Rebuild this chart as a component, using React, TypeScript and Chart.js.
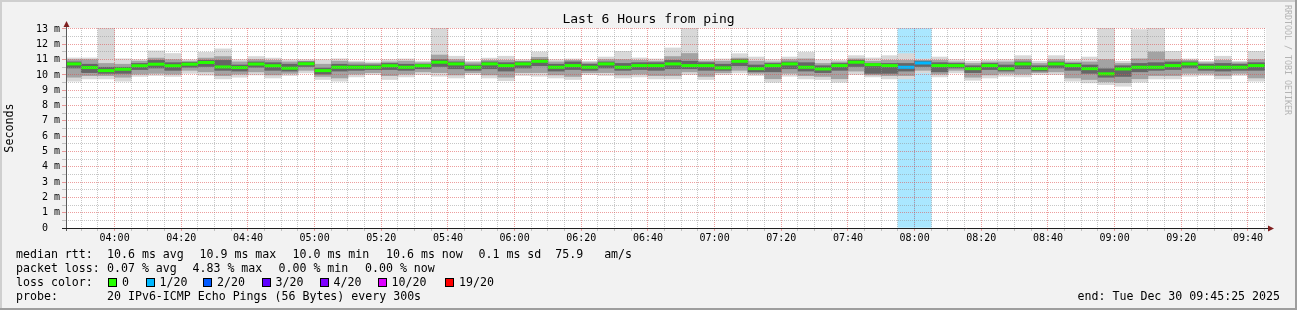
import React, { useEffect, useRef } from "react";
import { Chart, registerables } from "chart.js";

Chart.register(...registerables);

const MONO = '"DejaVu Sans Mono", monospace';

// ---- time axis (minutes since midnight) ----
const windowStart = 3 * 60 + 45 + 25 / 60; // 03:45:25
const windowEnd = windowStart + 6 * 60; // 09:45:25
const firstSlotStart = 3 * 60 + 45; // first 5-minute slot begins 03:45
const stepMinutes = 5;

const xMajorTickLabels = [
  "04:00", "04:20", "04:40", "05:00", "05:20", "05:40", "06:00", "06:20", "06:40",
  "07:00", "07:20", "07:40", "08:00", "08:20", "08:40", "09:00", "09:20", "09:40",
];
const yTickLabels = ["0  ", "1 m", "2 m", "3 m", "4 m", "5 m", "6 m", "7 m", "8 m", "9 m", "10 m", "11 m", "12 m", "13 m"];
const yMax = 13.065;

// ---- per 5-minute slot data (ms) ----
const medianRtt = [
  10.72, 10.48, 10.28, 10.37, 10.6, 10.7, 10.6, 10.7, 10.81, 10.52,
  10.48, 10.71, 10.6, 10.44, 10.73, 10.28, 10.5, 10.5, 10.5, 10.6,
  10.5, 10.6, 10.83, 10.72, 10.5, 10.72, 10.61, 10.72, 10.89, 10.5,
  10.61, 10.5, 10.72, 10.5, 10.61, 10.61, 10.72, 10.61, 10.61, 10.46,
  10.89, 10.41, 10.61, 10.72, 10.5, 10.39, 10.61, 10.83, 10.67, 10.61,
  10.5, 10.78, 10.61, 10.61, 10.41, 10.61, 10.41, 10.72, 10.41, 10.72,
  10.61, 10.41, 10.07, 10.39, 10.5, 10.5, 10.61, 10.72, 10.5, 10.5,
  10.5, 10.61,
];
const smokeOuterLo = [
  9.59, 9.74, 9.74, 9.59, 9.9, 9.96, 9.9, 10.1, 9.98, 9.74,
  9.85, 10.0, 9.8, 9.96, 10.13, 9.7, 9.59, 9.87, 10.02, 9.7,
  9.87, 10.02, 9.91, 9.8, 10.02, 9.8, 9.62, 9.96, 9.91, 9.8,
  9.7, 10.02, 9.96, 9.8, 9.87, 9.74, 9.74, 10.02, 9.7, 10.02,
  10.13, 9.96, 9.52, 9.91, 9.74, 9.7, 9.52, 10.02, 9.87, 9.74,
  9.74, 10.13, 9.87, 10.13, 9.65, 9.8, 9.91, 9.87, 10.02, 10.02,
  9.59, 9.48, 9.37, 9.26, 9.52, 9.74, 9.74, 9.91, 9.96, 9.74,
  9.96, 9.59,
];
const smokeOuterHi = [
  11.11, 11.11, 13.07, 11.05, 11.0, 11.57, 11.4, 11.0, 11.48, 11.7,
  11.0, 11.2, 11.1, 11.0, 11.0, 11.0, 11.05, 10.9, 10.85, 11.0,
  11.04, 10.9, 13.07, 11.22, 10.89, 11.1, 11.22, 11.0, 11.5, 11.0,
  11.04, 10.89, 11.17, 11.54, 11.11, 11.04, 11.76, 13.07, 11.0, 11.04,
  11.39, 11.17, 11.0, 11.17, 11.48, 11.0, 10.96, 11.26, 11.11, 11.26,
  11.39, 11.04, 11.17, 11.0, 10.89, 10.96, 11.0, 11.26, 10.89, 11.26,
  11.0, 11.17, 13.07, 10.89, 12.96, 13.07, 11.54, 11.04, 10.89, 11.22,
  10.89, 11.54,
];
const smokeMidLo = [
  9.85, 9.95, 9.95, 9.85, 10.05, 10.1, 10.05, 10.3, 10.2, 9.95,
  10.05, 10.2, 10.0, 10.1, 10.3, 9.9, 9.8, 10.05, 10.15, 9.95,
  10.05, 10.2, 10.15, 10.0, 10.15, 10.0, 9.85, 10.15, 10.15, 10.0,
  9.9, 10.15, 10.15, 10.0, 10.05, 9.95, 9.95, 10.2, 9.9, 10.15,
  10.3, 10.1, 9.75, 10.1, 9.95, 9.9, 9.75, 10.25, 10.0, 9.95,
  9.95, 10.3, 10.05, 10.3, 9.85, 10.0, 10.1, 10.05, 10.15, 10.2,
  9.8, 9.7, 9.55, 9.5, 9.75, 9.95, 9.95, 10.1, 10.1, 9.95,
  10.1, 9.8,
];
const smokeMidHi = [
  11.0, 11.0, 10.75, 10.7, 10.9, 11.1, 11.0, 10.9, 11.1, 11.2,
  10.85, 11.0, 10.95, 10.85, 10.9, 10.7, 10.9, 10.8, 10.75, 10.85,
  10.9, 10.8, 11.3, 11.0, 10.8, 10.95, 10.95, 10.9, 11.15, 10.85,
  10.95, 10.8, 11.0, 11.0, 10.95, 10.9, 11.2, 11.4, 10.9, 10.9,
  11.1, 10.9, 10.85, 11.0, 11.05, 10.75, 10.85, 11.05, 10.9, 10.95,
  10.95, 10.95, 10.95, 10.85, 10.75, 10.85, 10.85, 11.0, 10.75, 11.0,
  10.85, 10.85, 11.0, 10.75, 11.05, 11.5, 11.0, 10.95, 10.8, 10.95,
  10.8, 11.0,
];
const smokeCoreLo = [
  10.45, 10.15, 10.1, 10.1, 10.35, 10.45, 10.3, 10.5, 10.55, 10.3,
  10.25, 10.5, 10.3, 10.25, 10.55, 10.05, 10.25, 10.3, 10.35, 10.35,
  10.3, 10.4, 10.55, 10.4, 10.3, 10.4, 10.25, 10.45, 10.6, 10.25,
  10.35, 10.3, 10.45, 10.3, 10.35, 10.3, 10.4, 10.4, 10.3, 10.3,
  10.6, 10.2, 10.2, 10.4, 10.25, 10.15, 10.3, 10.55, 10.1, 10.1,
  10.25, 10.55, 10.2, 10.45, 10.15, 10.35, 10.25, 10.4, 10.25, 10.45,
  10.3, 10.1, 9.85, 9.9, 10.2, 10.3, 10.35, 10.45, 10.3, 10.25,
  10.3, 10.3,
];
const smokeCoreHi = [
  10.85, 10.7, 10.5, 10.5, 10.75, 10.95, 10.8, 10.82, 10.95, 10.95,
  10.65, 10.85, 10.8, 10.7, 10.85, 10.45, 10.7, 10.65, 10.65, 10.75,
  10.7, 10.7, 11.0, 10.85, 10.65, 10.85, 10.8, 10.85, 11.0, 10.7,
  10.85, 10.7, 10.85, 10.75, 10.8, 10.8, 10.95, 10.9, 10.8, 10.7,
  11.0, 10.65, 10.75, 10.85, 10.8, 10.6, 10.75, 10.95, 10.75, 10.75,
  10.75, 10.9, 10.8, 10.75, 10.6, 10.75, 10.65, 10.85, 10.6, 10.85,
  10.75, 10.65, 10.4, 10.6, 10.75, 10.8, 10.85, 10.85, 10.7, 10.75,
  10.7, 10.8,
];
const lossCount = [
  0, 0, 0, 0, 0, 0, 0, 0, 0, 0,
  0, 0, 0, 0, 0, 0, 0, 0, 0, 0,
  0, 0, 0, 0, 0, 0, 0, 0, 0, 0,
  0, 0, 0, 0, 0, 0, 0, 0, 0, 0,
  0, 0, 0, 0, 0, 0, 0, 0, 0, 0,
  1, 1, 0, 0, 0, 0, 0, 0, 0, 0,
  0, 0, 0, 0, 0, 0, 0, 0, 0, 0,
  0, 0,
];

const lossThresholds = [0, 1, 2, 3, 4, 10, 19];
const lossLabels = ["0", "1/20", "2/20", "3/20", "4/20", "10/20", "19/20"];
const lossColors = ["#26ff00", "#00b8ff", "#0059ff", "#5e00ff", "#7e00ff", "#dd00ff", "#ff0000"];
const lossLegendX = [108, 145.5, 203, 261.5, 319.5, 377.5, 445];

// legend rows: [text, x]
const rttLegend: [string, number][] = [
  ["median rtt:", 16],
  ["10.6 ms avg", 107],
  ["10.9 ms max", 199.5],
  ["10.0 ms min", 292.5],
  ["10.6 ms now", 386],
  ["0.1 ms sd  75.9   am/s", 478.5],
];
const lossLegendText: [string, number][] = [
  ["packet loss:", 16],
  ["0.07 % avg", 107],
  ["4.83 % max", 192.5],
  ["0.00 % min", 278.5],
  ["0.00 % now", 365],
];
const probeLegend: [string, number][] = [
  ["probe:", 16],
  ["20 IPv6-ICMP Echo Pings (56 Bytes) every 300s", 107],
];
const endLine = "end: Tue Dec 30 09:45:25 2025";
const titleText = "Last 6 Hours from ping";
const watermark = "RRDTOOL / TOBI OETIKER";

const GRID_MINOR = "rgba(143,143,143,0.5)";
const GRID_MAJOR = "rgba(222,79,79,0.55)";

function lossColor(n: number): string {
  let c = lossColors[0];
  for (let i = 0; i < lossThresholds.length; i++) if (n >= lossThresholds[i]) c = lossColors[i];
  return c;
}
function toMinutes(s: string): number {
  const [h, m] = s.split(":").map(Number);
  return h * 60 + m;
}

const axisDecor = {
  id: "axisDecor",
  beforeDraw(chart: any) {
    const { ctx, chartArea: a } = chart;
    ctx.save();
    ctx.fillStyle = "#ffffff";
    ctx.fillRect(a.left, a.top, a.right - a.left, a.bottom - a.top);
    ctx.restore();
  },
  afterDraw(chart: any) {
    const { ctx, chartArea: a } = chart;
    ctx.save();
    ctx.lineWidth = 1;
    ctx.strokeStyle = "#5a5a5a";
    ctx.beginPath();
    ctx.moveTo(a.left + 0.5, a.top - 4);
    ctx.lineTo(a.left + 0.5, a.bottom + 3);
    ctx.stroke();
    ctx.strokeStyle = "#1f1f1f";
    ctx.beginPath();
    ctx.moveTo(a.left - 4, a.bottom + 0.5);
    ctx.lineTo(a.right + 2, a.bottom + 0.5);
    ctx.stroke();
    ctx.fillStyle = "#801f1f";
    ctx.beginPath();
    ctx.moveTo(a.left + 0.5, a.top - 7);
    ctx.lineTo(a.left - 2.5, a.top - 1);
    ctx.lineTo(a.left + 3.5, a.top - 1);
    ctx.closePath();
    ctx.fill();
    ctx.beginPath();
    ctx.moveTo(a.right + 8, a.bottom + 0.5);
    ctx.lineTo(a.right + 2, a.bottom - 2.5);
    ctx.lineTo(a.right + 2, a.bottom + 3.5);
    ctx.closePath();
    ctx.fill();
    ctx.restore();
  },
};

export default function App() {
  const canvasRef = useRef<HTMLCanvasElement>(null);

  useEffect(() => {
    const canvas = canvasRef.current;
    if (!canvas) return;

    const slotCenters = medianRtt.map((_, i) => firstSlotStart + stepMinutes * i + stepMinutes / 2);
    const band = (lo: number[], hi: number[]) => slotCenters.map((x, i) => ({ x, y: [lo[i], hi[i]] }));
    const lossSlots = slotCenters
      .map((x, i) => ({ x, y: [0, yMax], n: lossCount[i] }))
      .filter((d) => d.n > 0);

    const majorMinutes = xMajorTickLabels.map(toMinutes);
    const xTicks: number[] = [];
    for (let t = Math.ceil(windowStart / stepMinutes) * stepMinutes; t <= windowEnd; t += stepMinutes) xTicks.push(t);
    const yTicks: number[] = [];
    for (let v = 0; v <= yTickLabels.length - 1; v += 0.5) yTicks.push(v);

    const halfSlotPx = (ctx: any) => {
      const s = ctx.chart.scales.x;
      return Math.abs(s.getPixelForValue(stepMinutes) - s.getPixelForValue(0)) / 2;
    };

    const barCommon = {
      type: "bar" as const,
      grouped: false,
      categoryPercentage: 1,
      barPercentage: 1,
      borderWidth: 0,
      clip: 0,
    };

    const chart = new Chart(canvas, {
      type: "bar",
      data: {
        datasets: [
          {
            ...barCommon,
            label: "loss",
            data: lossSlots as any,
            backgroundColor: lossSlots.map((d) => lossColor(d.n) + "55"),
            order: 10,
          },
          { ...barCommon, label: "smoke outer", data: band(smokeOuterLo, smokeOuterHi) as any, backgroundColor: "#d8d8d8", order: 9 },
          { ...barCommon, label: "smoke mid", data: band(smokeMidLo, smokeMidHi) as any, backgroundColor: "#a3a3a3", order: 8 },
          { ...barCommon, label: "smoke core", data: band(smokeCoreLo, smokeCoreHi) as any, backgroundColor: "#666666", order: 7 },
          {
            type: "line" as const,
            label: "median rtt",
            data: slotCenters.map((x, i) => ({ x, y: medianRtt[i] })) as any,
            showLine: false,
            pointStyle: "line",
            pointRadius: halfSlotPx,
            pointHoverRadius: halfSlotPx,
            pointBorderWidth: 3,
            pointBorderColor: lossCount.map(lossColor),
            pointBackgroundColor: lossCount.map(lossColor),
            clip: 0,
            order: 1,
          } as any,
        ],
      },
      options: {
        animation: false,
        responsive: false,
        devicePixelRatio: 1,
        events: [],
        layout: { padding: { left: 0, top: 28, right: 31, bottom: 0 } },
        plugins: {
          legend: { display: false },
          title: { display: false },
          tooltip: { enabled: false },
        },
        scales: {
          x: {
            type: "linear",
            offset: false,
            min: windowStart,
            max: windowEnd,
            afterBuildTicks: (s: any) => {
              s.ticks = xTicks.map((value) => ({ value }));
            },
            afterFit: (s: any) => {
              s.height = 82;
            },
            ticks: {
              autoSkip: false,
              minRotation: 0,
              maxRotation: 0,
              padding: 1,
              color: "#000",
              font: { family: MONO, size: 10 },
              callback: (v: any) => {
                const idx = majorMinutes.indexOf(Number(v));
                return idx >= 0 ? xMajorTickLabels[idx] : "";
              },
            },
            grid: {
              z: 1,
              offset: false,
              lineWidth: 1,
              tickLength: 3,
              color: (ctx: any) => (ctx.tick && majorMinutes.includes(ctx.tick.value) ? GRID_MAJOR : GRID_MINOR),
              tickColor: (ctx: any) => (ctx.tick && majorMinutes.includes(ctx.tick.value) ? GRID_MAJOR : GRID_MINOR),
            },
            border: { display: false, dash: [1, 1] },
          },
          y: {
            type: "linear",
            min: 0,
            max: yMax,
            afterBuildTicks: (s: any) => {
              s.ticks = yTicks.map((value) => ({ value }));
            },
            afterFit: (s: any) => {
              s.width = 66;
            },
            ticks: {
              autoSkip: false,
              padding: 2,
              color: "#000",
              font: { family: MONO, size: 10 },
              callback: (v: any) => (Number.isInteger(Number(v)) ? yTickLabels[Number(v)] : ""),
            },
            grid: {
              z: 1,
              lineWidth: 1,
              tickLength: 4,
              color: (ctx: any) => (ctx.tick && Number.isInteger(ctx.tick.value) ? GRID_MAJOR : GRID_MINOR),
              tickColor: (ctx: any) => (ctx.tick && Number.isInteger(ctx.tick.value) ? GRID_MAJOR : GRID_MINOR),
            },
            border: { display: false, dash: [1, 1] },
            title: {
              display: true,
              text: "Seconds",
              color: "#000",
              font: { family: MONO, size: 11.7 },
              padding: { top: 3, bottom: 0 },
            },
          },
        },
      } as any,
      plugins: [axisDecor],
    });
    return () => chart.destroy();
  }, []);

  const textStyle: React.CSSProperties = {
    position: "absolute",
    fontFamily: MONO,
    fontSize: "11.6px",
    lineHeight: "14px",
    color: "#000",
    whiteSpace: "pre",
  };

  const row = (items: [string, number][], top: number) =>
    items.map(([t, x]) => (
      <div key={t + top} style={{ ...textStyle, left: x, top }}>
        {t}
      </div>
    ));

  return (
    <div
      style={{
        position: "fixed",
        left: 0,
        top: 0,
        width: 1297,
        height: 310,
        background: "#f2f2f2",
        overflow: "hidden",
      }}
    >
      <canvas ref={canvasRef} width={1297} height={310} style={{ position: "absolute", left: 0, top: 0 }} />
      <div style={{ position: "absolute", left: 0, top: 0, width: 1297, height: 2, background: "#cfcfcf" }} />
      <div style={{ position: "absolute", left: 0, top: 0, width: 2, height: 310, background: "#cfcfcf" }} />
      <div style={{ position: "absolute", left: 0, top: 308, width: 1297, height: 2, background: "#9e9e9e" }} />
      <div style={{ position: "absolute", left: 1295, top: 0, width: 2, height: 310, background: "#9e9e9e" }} />
      <div
        style={{
          position: "absolute",
          left: 0,
          top: 11,
          width: 1297,
          textAlign: "center",
          fontFamily: MONO,
          fontSize: "13px",
          lineHeight: "16px",
          color: "#000",
          whiteSpace: "pre",
        }}
      >
        {titleText}
      </div>
      <div
        style={{
          position: "absolute",
          left: 1283,
          top: 5,
          width: 10,
          writingMode: "vertical-rl",
          fontFamily: MONO,
          fontSize: "8.3px",
          lineHeight: "10px",
          color: "#b4b4b4",
          whiteSpace: "pre",
        }}
      >
        {watermark}
      </div>
      {row(rttLegend, 247)}
      {row(lossLegendText, 261)}
      <div style={{ ...textStyle, left: 16, top: 275 }}>loss color:</div>
      {lossLabels.map((lab, i) => (
        <React.Fragment key={lab}>
          <div
            style={{
              position: "absolute",
              left: lossLegendX[i],
              top: 278,
              width: 9,
              height: 9,
              boxSizing: "border-box",
              border: "1px solid #000",
              background: lossColors[i],
            }}
          />
          <div style={{ ...textStyle, left: lossLegendX[i] + 14, top: 275 }}>{lab}</div>
        </React.Fragment>
      ))}
      {row(probeLegend, 289)}
      <div style={{ ...textStyle, right: 17, top: 289 }}>{endLine}</div>
    </div>
  );
}
